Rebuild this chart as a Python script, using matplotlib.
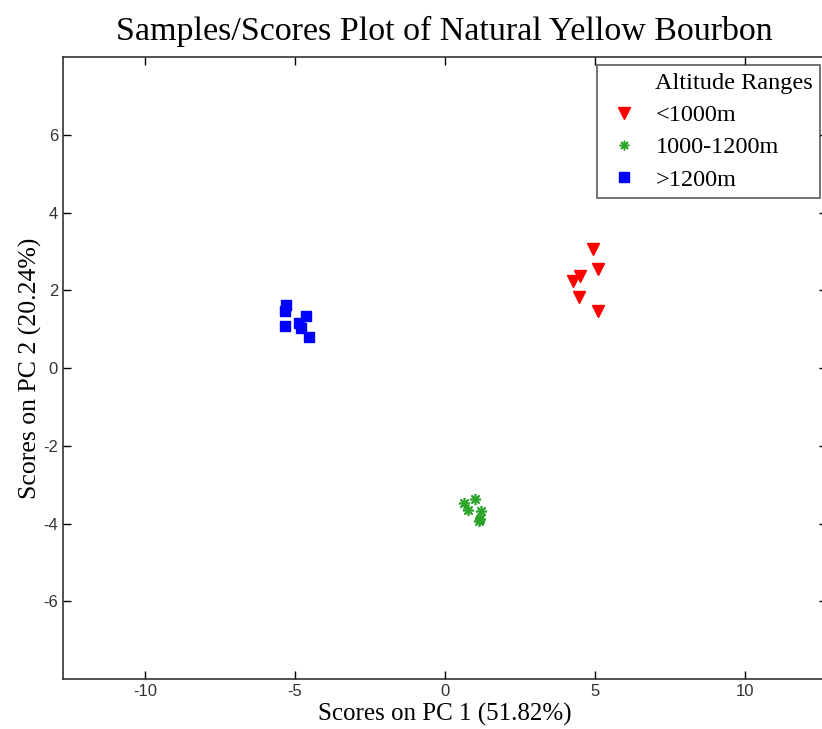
import matplotlib.pyplot as plt
from matplotlib.lines import Line2D

plt.rcParams['axes.unicode_minus'] = False

# PCA scores grouped by altitude range
low_pc1 = [4.94, 5.11, 4.52, 4.28, 4.48, 5.11]
low_pc2 = [3.07, 2.56, 2.38, 2.23, 1.82, 1.48]

mid_pc1 = [0.63, 0.78, 1.01, 1.20, 1.13, 1.17]
mid_pc2 = [-3.48, -3.65, -3.36, -3.69, -3.94, -3.88]

high_pc1 = [-5.30, -5.32, -5.33, -4.63, -4.86, -4.81, -4.52]
high_pc2 = [1.62, 1.48, 1.08, 1.33, 1.16, 1.03, 0.79]

group_labels = ['<1000m', '1000-1200m', '>1200m']
x_ticks = [-10, -5, 0, 5, 10]
y_ticks = [-6, -4, -2, 0, 2, 4, 6]

serif = 'Liberation Serif'
red, green, blue = '#ff0000', '#2aa52a', '#0000ff'
asterisk = (8, 2, 0)

fig = plt.figure(figsize=(8.22, 7.29), dpi=100)
ax = fig.add_axes([0.0766, 0.0686, 0.929, 0.853])

ax.plot(low_pc1, low_pc2, 'v', color=red, ms=8, linestyle='none')
ax.plot(mid_pc1, mid_pc2, marker=asterisk, color=green, ms=8, mew=1.2, linestyle='none')
ax.plot(high_pc1, high_pc2, 's', color=blue, ms=7, linestyle='none')

ax.set_xlim(-12.73, 12.73)
ax.set_ylim(-8, 8)
ax.set_xticks(x_ticks)
ax.set_yticks(y_ticks)
ax.tick_params(direction='in', top=True, right=True, length=6, width=1,
               labelsize=12, labelcolor='#333333')
for lbl in ax.get_xticklabels() + ax.get_yticklabels():
    lbl.set_family('Liberation Sans')
for sp in ax.spines.values():
    sp.set_linewidth(1.2)
    sp.set_color('#333333')

ax.set_title('Samples/Scores Plot of Natural Yellow Bourbon',
             family=serif, fontsize=24.5, pad=12)
ax.set_xlabel('Scores on PC 1 (51.82%)', family=serif, fontsize=18, labelpad=3)
ax.set_ylabel('Scores on PC 2 (20.24%)', family=serif, fontsize=18.5, labelpad=1)

handles = [
    Line2D([], [], linestyle='none', marker=None),
    Line2D([], [], linestyle='none', marker='v', color=red, ms=8),
    Line2D([], [], linestyle='none', marker=asterisk, color=green, ms=7, mew=1.1),
    Line2D([], [], linestyle='none', marker='s', color=blue, ms=7),
]
leg = ax.legend(handles, ['Altitude Ranges'] + group_labels,
                loc='upper right', bbox_to_anchor=(0.992, 0.988),
                prop={'family': serif, 'size': 17.5}, frameon=True,
                fancybox=False, edgecolor='#333333', handletextpad=0.5,
                labelspacing=0.42, borderpad=0.3, handlelength=1.6,
                borderaxespad=0.0)
leg.get_frame().set_linewidth(1.2)

fig.savefig('out.png', dpi=100)
